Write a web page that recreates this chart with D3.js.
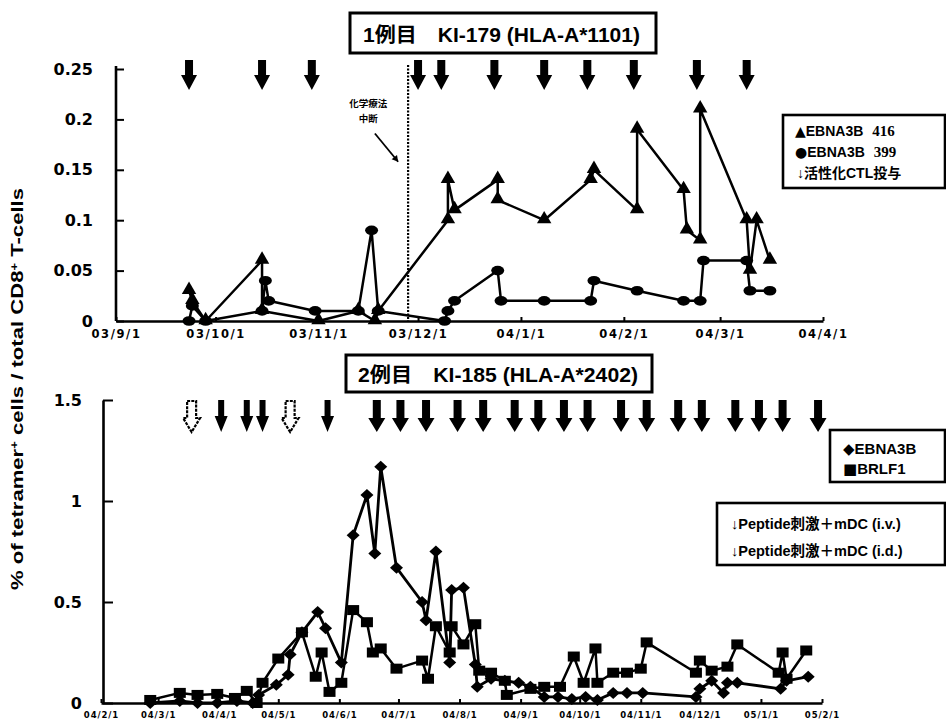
<!DOCTYPE html>
<html><head><meta charset="utf-8">
<script src="https://cdn.jsdelivr.net/npm/d3@7"></script>
<style>
body{margin:0;background:#fff}
svg{display:block}
text{font-family:"Liberation Sans",Arial,"Noto Sans CJK JP",sans-serif;font-weight:bold;fill:#000}
</style>
</head><body>
<svg id="c" width="946" height="720"></svg>
<script>
// ---------------- DATA ----------------
// Top panel (case 1, KI-179)
const topXTickDates = ["2003-09-01","2003-10-01","2003-11-01","2003-12-01","2004-01-01","2004-02-01","2004-03-01","2004-04-01"];
const topXTickLabels = ["03/9/1","03/10/1","03/11/1","03/12/1","04/1/1","04/2/1","04/3/1","04/4/1"];
const topYTicks = [0, 0.05, 0.1, 0.15, 0.2, 0.25];
const topYLabels = ["0","0.05","0.1","0.15","0.2","0.25"];

const e416Dates = ["2003-09-23","2003-09-24","2003-09-28","2003-10-15","2003-10-15","2003-11-01","2003-11-13","2003-11-18","2003-11-19","2003-12-10","2003-12-10","2003-12-12","2003-12-25","2003-12-25","2004-01-08","2004-01-22","2004-01-23","2004-02-05","2004-02-05","2004-02-19","2004-02-20","2004-02-24","2004-02-24","2004-03-09","2004-03-10","2004-03-12","2004-03-16"];
const e416Values = [0.03,0.02,0,0.06,0.01,0,0.01,0,0.01,0.10,0.14,0.11,0.14,0.12,0.10,0.14,0.15,0.11,0.19,0.13,0.09,0.08,0.21,0.10,0.05,0.10,0.06];

const e399Dates = ["2003-09-23","2003-09-24","2003-09-28","2003-10-15","2003-10-16","2003-10-17","2003-10-31","2003-11-13","2003-11-17","2003-11-19","2003-12-09","2003-12-10","2003-12-12","2003-12-25","2003-12-26","2004-01-08","2004-01-22","2004-01-23","2004-02-05","2004-02-19","2004-02-24","2004-02-25","2004-03-09","2004-03-10","2004-03-16"];
const e399Values = [0,0.015,0,0.01,0.04,0.02,0.01,0.01,0.09,0.01,0,0.01,0.02,0.05,0.02,0.02,0.02,0.04,0.03,0.02,0.02,0.06,0.06,0.03,0.03];

const ctlDates = ["2003-09-23","2003-10-15","2003-10-30","2003-12-01","2003-12-08","2003-12-24","2004-01-08","2004-01-21","2004-02-04","2004-02-23","2004-03-09"];
const chemoStopDate = "2003-11-28";

// Bottom panel (case 2, KI-185)
const botXTickDates = ["2004-02-01","2004-03-01","2004-04-01","2004-05-01","2004-06-01","2004-07-01","2004-08-01","2004-09-01","2004-10-01","2004-11-01","2004-12-01","2005-01-01","2005-02-01"];
const botXTickLabels = ["04/2/1","04/3/1","04/4/1","04/5/1","04/6/1","04/7/1","04/8/1","04/9/1","04/10/1","04/11/1","04/12/1","05/1/1","05/2/1"];
const botYTicks = [0, 0.5, 1, 1.5];
const botYLabels = ["0","0.5","1","1.5"];

const ebnaDates = ["2004-02-26","2004-03-12","2004-03-21","2004-03-31","2004-04-10","2004-04-18","2004-04-21","2004-04-30","2004-05-06","2004-05-07","2004-05-13","2004-05-21","2004-05-25","2004-06-02","2004-06-08","2004-06-15","2004-06-19","2004-06-22","2004-06-30","2004-07-13","2004-07-15","2004-07-20","2004-07-27","2004-07-28","2004-08-03","2004-08-09","2004-08-10","2004-08-17","2004-08-24","2004-08-31","2004-09-06","2004-09-13","2004-09-20","2004-09-27","2004-10-04","2004-10-10","2004-10-18","2004-10-25","2004-11-02","2004-11-29","2004-12-01","2004-12-07","2004-12-13","2004-12-15","2004-12-20","2005-01-11","2005-01-14","2005-01-25"];
const ebnaValues = [0,0.01,0,0,0.01,0,0.04,0.09,0.14,0.24,0.35,0.45,0.37,0.20,0.83,1.03,0.74,1.17,0.67,0.50,0.41,0.75,0.20,0.56,0.57,0.19,0.08,0.12,0.11,0.10,0.08,0.03,0.03,0.02,0.03,0.015,0.05,0.05,0.05,0.03,0.07,0.11,0.05,0.10,0.10,0.07,0.11,0.13];

const brlfDates = ["2004-02-26","2004-03-12","2004-03-21","2004-03-31","2004-04-09","2004-04-15","2004-04-20","2004-04-23","2004-05-01","2004-05-13","2004-05-20","2004-05-23","2004-05-27","2004-06-02","2004-06-08","2004-06-15","2004-06-18","2004-06-22","2004-06-30","2004-07-13","2004-07-16","2004-07-20","2004-07-27","2004-07-28","2004-08-03","2004-08-09","2004-08-11","2004-08-17","2004-08-24","2004-08-25","2004-09-06","2004-09-13","2004-09-21","2004-09-28","2004-10-03","2004-10-09","2004-10-10","2004-10-18","2004-10-25","2004-11-01","2004-11-04","2004-11-29","2004-12-01","2004-12-07","2004-12-15","2004-12-20","2005-01-10","2005-01-12","2005-01-14","2005-01-24"];
const brlfValues = [0.015,0.05,0.04,0.045,0.025,0.06,0,0.10,0.22,0.35,0.13,0.25,0.055,0.10,0.46,0.40,0.25,0.27,0.17,0.21,0.12,0.38,0.25,0.38,0.29,0.39,0.16,0.15,0.11,0.04,0.07,0.08,0.08,0.23,0.10,0.27,0.10,0.15,0.15,0.17,0.30,0.15,0.21,0.16,0.18,0.29,0.15,0.25,0.12,0.26];

const ivDates = ["2004-04-02","2004-04-15","2004-04-23","2004-05-26","2004-06-20","2004-07-02","2004-07-15","2004-07-31","2004-08-13","2004-08-29","2004-09-10","2004-09-23","2004-10-05","2004-10-22","2004-11-04","2004-11-20","2004-12-02","2004-12-19","2004-12-31","2005-01-12","2005-01-30"];
const ivThinDates = ["2004-04-02","2004-04-15","2004-04-23","2004-05-26"];
const idDates = ["2004-03-18","2004-05-07"];

const titleTop = "1例目　KI-179 (HLA-A*1101)";
const titleBot = "2例目　KI-185 (HLA-A*2402)";

// ---------------- DRAW ----------------
const parse = d3.timeParse("%Y-%m-%d");
const svg = d3.select("#c");
svg.append("rect").attr("width",946).attr("height",720).attr("fill","#fff");

const xT = d3.scaleTime().domain([parse("2003-09-01"), parse("2004-04-01")]).range([116, 823]);
const yT = d3.scaleLinear().domain([0, 0.25]).range([321, 69]);
const xB = d3.scaleTime().domain([parse("2004-02-01"), parse("2005-02-01")]).range([101, 822]);
const yB = d3.scaleLinear().domain([0, 1.5]).range([703, 400]);

const DJ = "'DejaVu Sans',sans-serif";
function styleAxis(g, fs, ls){
  g.select(".domain").attr("stroke","#000").attr("stroke-width",2.6);
  g.selectAll(".tick line").attr("stroke","#000").attr("stroke-width",2);
  g.selectAll(".tick text").style("font-size",fs+"px").style("letter-spacing",(ls||0)+"px")
    .style("font-family",DJ).style("font-weight","bold").style("fill","#000");
}

// Top axes
const gyT = svg.append("g").attr("transform","translate(116,0)")
  .call(d3.axisLeft(yT).tickValues(topYTicks).tickFormat((d,i)=>topYLabels[i]).tickSize(-8).tickSizeOuter(0).tickPadding(23));
styleAxis(gyT,16);
gyT.select(".domain").attr("d","M0,66V321");
const gxT = svg.append("g").attr("transform","translate(0,321)")
  .call(d3.axisBottom(xT).tickValues(topXTickDates.map(parse)).tickFormat((d,i)=>topXTickLabels[i]).tickSize(-4).tickSizeOuter(0).tickPadding(9));
styleAxis(gxT,11.5,1.6);

// Bottom axes
const gyB = svg.append("g").attr("transform","translate(103,0)")
  .call(d3.axisLeft(yB).tickValues(botYTicks).tickFormat((d,i)=>botYLabels[i]).tickSize(-10).tickSizeOuter(0).tickPadding(21));
styleAxis(gyB,16);
const gxB = svg.append("g").attr("transform","translate(0,703)")
  .call(d3.axisBottom(xB).tickValues(botXTickDates.map(parse)).tickFormat((d,i)=>botXTickLabels[i]).tickSize(-4).tickSizeOuter(0).tickPadding(9));
styleAxis(gxB,8.5,0.9);

// Y title
const yt = svg.append("text").attr("transform","translate(23,389) rotate(-90)")
  .attr("text-anchor","middle").attr("font-size",17).attr("textLength",402).attr("lengthAdjust","spacingAndGlyphs");
yt.append("tspan").text("% of tetramer");
yt.append("tspan").attr("baseline-shift","super").attr("font-size",10).text("+");
yt.append("tspan").text(" cells / total CD8");
yt.append("tspan").attr("baseline-shift","super").attr("font-size",10).text("+");
yt.append("tspan").text(" T-cells");

// Title boxes
function titleBox(x,y,w,h,txt,tx,ty,tl){
  svg.append("rect").attr("x",x).attr("y",y).attr("width",w).attr("height",h)
    .attr("fill","#fff").attr("stroke","#000").attr("stroke-width",3);
  svg.append("text").attr("x",tx).attr("y",ty).attr("font-size",20)
    .attr("textLength",tl).attr("lengthAdjust","spacingAndGlyphs").text(txt);
}
titleBox(350,13,306,40,titleTop,363,42,277);
titleBox(346,355,306,37,titleBot,358,382,280);

// Arrow shape
function arrowPath(cx, yTop, yHead, yTip, sw, hw){
  return `M${cx-sw/2},${yTop}H${cx+sw/2}V${yHead}H${cx+hw/2}L${cx},${yTip}L${cx-hw/2},${yHead}H${cx-sw/2}Z`;
}
// top arrows
svg.append("g").selectAll("path").data(ctlDates).join("path")
  .attr("d",d=>arrowPath(xT(parse(d)),60,75,90,8,16)).attr("fill","#000");
// bottom arrows
svg.append("g").selectAll("path").data(ivDates).join("path")
  .attr("d",d=>{const thin = ivThinDates.includes(d); return arrowPath(xB(parse(d)),400,thin?416:418,432,thin?6:8,thin?13:17);})
  .attr("fill","#000");
svg.append("g").selectAll("path").data(idDates).join("path")
  .attr("d",d=>arrowPath(xB(parse(d)),401,418,432,9,17))
  .attr("fill","#fff").attr("stroke","#000").attr("stroke-width",2.2).attr("stroke-dasharray","3,1.2");

// chemo stop dashed line + annotation
svg.append("line").attr("x1",xT(parse(chemoStopDate))).attr("x2",xT(parse(chemoStopDate)))
  .attr("y1",65).attr("y2",321).attr("stroke","#000").attr("stroke-width",2.2).attr("stroke-dasharray","2,1.5");
const annDate = parse("2003-11-16");
svg.append("text").attr("x",xT(annDate)).attr("y",yT(0.212)).attr("text-anchor","middle").attr("font-size",9.5).text("化学療法");
svg.append("text").attr("x",xT(annDate)).attr("y",yT(0.197)).attr("text-anchor","middle").attr("font-size",9.5).text("中断");
const a1 = [xT(parse("2003-11-18")), yT(0.186)], a2 = [xT(parse("2003-11-25")), yT(0.158)];
svg.append("line").attr("x1",a1[0]).attr("y1",a1[1]).attr("x2",a2[0]).attr("y2",a2[1]).attr("stroke","#000").attr("stroke-width",1.8);
{
  const ang = Math.atan2(a2[1]-a1[1], a2[0]-a1[0]);
  const L=6, W=3.5;
  const p1=[a2[0]-L*Math.cos(ang)+W*Math.sin(ang), a2[1]-L*Math.sin(ang)-W*Math.cos(ang)];
  const p2=[a2[0]-L*Math.cos(ang)-W*Math.sin(ang), a2[1]-L*Math.sin(ang)+W*Math.cos(ang)];
  svg.append("path").attr("d",`M${a2[0]},${a2[1]}L${p1[0]},${p1[1]}L${p2[0]},${p2[1]}Z`).attr("fill","#000");
}

// Series helpers
function zip(ds, vs){ return ds.map((d,i)=>({date:parse(d), v:vs[i]})); }
const s416 = zip(e416Dates,e416Values), s399 = zip(e399Dates,e399Values);
const sEbna = zip(ebnaDates,ebnaValues), sBrlf = zip(brlfDates,brlfValues);

const lineT = d3.line().x(d=>xT(d.date)).y(d=>yT(d.v));
const lineB = d3.line().x(d=>xB(d.date)).y(d=>yB(d.v));

function drawLine(data, gen, w){
  svg.append("path").datum(data).attr("d",gen).attr("fill","none").attr("stroke","#000")
    .attr("stroke-width",w).attr("stroke-linejoin","round");
}
drawLine(s399, lineT, 2.5);
drawLine(s416, lineT, 2.5);
drawLine(sBrlf, lineB, 2.5);
drawLine(sEbna, lineB, 2.8);

// markers
svg.append("g").selectAll("ellipse").data(s399).join("ellipse")
  .attr("cx",d=>xT(d.date)).attr("cy",d=>yT(d.v)).attr("rx",6.5).attr("ry",4.8).attr("fill","#000");
svg.append("g").selectAll("path").data(s416).join("path")
  .attr("transform",d=>`translate(${xT(d.date)},${yT(d.v)-1})`)
  .attr("d",d3.symbol(d3.symbolTriangle,90)).attr("fill","#000");
svg.append("g").selectAll("rect").data(sBrlf).join("rect")
  .attr("x",d=>xB(d.date)-6).attr("y",d=>yB(d.v)-5).attr("width",12).attr("height",10).attr("fill","#000");
svg.append("g").selectAll("path").data(sEbna).join("path")
  .attr("transform",d=>`translate(${xB(d.date)},${yB(d.v)})`)
  .attr("d","M0,-6L6.5,0L0,6L-6.5,0Z").attr("fill","#000");

// Legends
function box(x,y,w,h){
  svg.append("rect").attr("x",x).attr("y",y).attr("width",w).attr("height",h)
    .attr("fill","#fff").attr("stroke","#000").attr("stroke-width",2.6);
}
function sym(t, ch, fs){ t.append("tspan").style("font-family",DJ).attr("font-size",fs).text(ch); }
box(783,115,162,73);
const lt = [["▲","EBNA3B","416",136,14],["●","EBNA3B","399",157,14]];
lt.forEach(([s,a,b,y,fs])=>{
  const t = svg.append("text").attr("x",795).attr("y",y).attr("font-size",14);
  sym(t,s,fs);
  t.append("tspan").text(a);
  t.append("tspan").attr("dx",9).style("font-family","'Liberation Serif',serif").attr("font-size",15).text(b);
});
svg.append("text").attr("x",797).attr("y",178).attr("font-size",14).text("↓活性化CTL投与");

box(830,430,115,52);
{ const t = svg.append("text").attr("x",843).attr("y",454).attr("font-size",15); sym(t,"◆",15); t.append("tspan").text("EBNA3B"); }
{ const t = svg.append("text").attr("x",843).attr("y",474).attr("font-size",15); sym(t,"■",15); t.append("tspan").text("BRLF1"); }

box(717,503,228,62);
svg.append("text").attr("x",731).attr("y",529).attr("font-size",14.5).text("↓Peptide刺激＋mDC (i.v.)");
svg.append("text").attr("x",731).attr("y",556).attr("font-size",14.5).text("↓Peptide刺激＋mDC (i.d.)");
</script>
</body></html>
